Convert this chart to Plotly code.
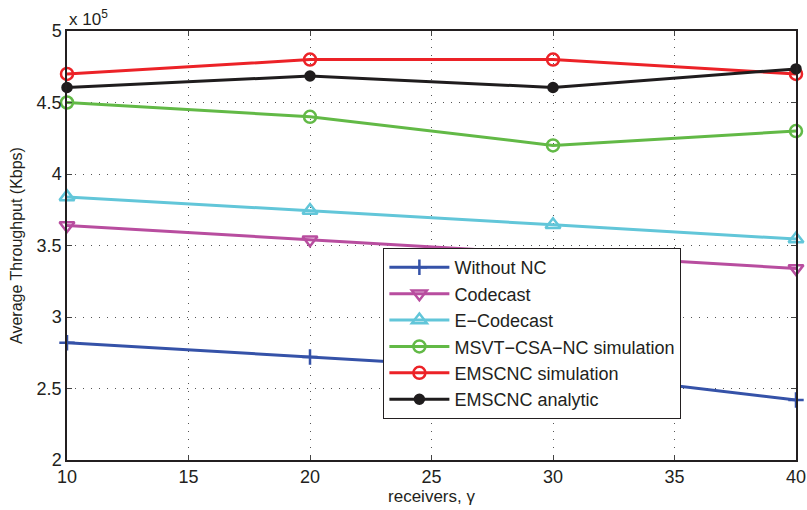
import plotly.graph_objects as go

receivers = [10, 20, 30, 40]

without_nc = [2.82e5, 2.72e5, 2.62e5, 2.42e5]
codecast = [3.64e5, 3.54e5, 3.44e5, 3.34e5]
e_codecast = [3.84e5, 3.745e5, 3.645e5, 3.545e5]
msvt_csa_nc = [4.50e5, 4.40e5, 4.20e5, 4.30e5]
emscnc_sim = [4.70e5, 4.80e5, 4.80e5, 4.70e5]
emscnc_ana = [4.605e5, 4.685e5, 4.605e5, 4.735e5]

y_ticks = [2e5, 2.5e5, 3e5, 3.5e5, 4e5, 4.5e5, 5e5]
y_tick_text = ["2", "2.5", "3", "3.5", "4", "4.5", "5"]
x_ticks = [10, 15, 20, 25, 30, 35, 40]

series = [
    ("Without NC", without_nc, "#3552a8", "cross-thin-open", 11),
    ("Codecast", codecast, "#b84d9f", "triangle-down-open", 13),
    ("E\u2212Codecast", e_codecast, "#62c6d9", "triangle-up-open", 13),
    ("MSVT\u2212CSA\u2212NC simulation", msvt_csa_nc, "#62b946", "circle-open", 12),
    ("EMSCNC simulation", emscnc_sim, "#ec2227", "circle-open", 12),
    ("EMSCNC analytic", emscnc_ana, "#1f1c1d", "circle", 9),
]

fig = go.Figure()
for name, vals, color, sym, size in series:
    fig.add_trace(go.Scatter(
        x=receivers, y=vals, name=name, mode="lines+markers",
        line=dict(color=color, width=3),
        marker=dict(symbol=sym, size=size, color=color,
                    line=dict(color=color, width=2.5)),
        cliponaxis=False,
    ))

font_main = "Liberation Sans, Arial, sans-serif"
font_narrow = "Liberation Sans Narrow, Arial Narrow, Liberation Sans, sans-serif"
grid_dash = "1px,7px"

fig.update_layout(
    width=807, height=510,
    margin=dict(l=67, r=11, t=31, b=50),
    plot_bgcolor="white", paper_bgcolor="white",
    font=dict(family=font_main, color="#231f20", size=15),
    showlegend=True,
    legend=dict(
        x=0.434, y=0.494, xanchor="left", yanchor="top",
        bgcolor="white", bordercolor="#231f20", borderwidth=1,
        font=dict(size=18, family=font_main), tracegroupgap=0,
        itemwidth=60,
    ),
    xaxis=dict(
        range=[10, 40], tickvals=x_ticks, ticks="inside", ticklen=5,
        showline=True, mirror="ticks", linecolor="#231f20", linewidth=1.5,
        showgrid=True, gridcolor="#555555", griddash=grid_dash, gridwidth=1,
        zeroline=False, automargin=False,
        tickfont=dict(family=font_narrow, size=18),
        title=dict(text="receivers, \u03b3", font=dict(family=font_narrow, size=17), standoff=2),
    ),
    yaxis=dict(
        range=[2e5, 5e5], tickvals=y_ticks, ticktext=y_tick_text,
        ticks="inside", ticklen=5,
        showline=True, mirror="ticks", linecolor="#231f20", linewidth=1.5,
        showgrid=True, gridcolor="#555555", griddash=grid_dash, gridwidth=1,
        zeroline=False, automargin=False,
        tickfont=dict(family=font_main, size=18),
        title=dict(text="Average Throughput (Kbps)", font=dict(family=font_main, size=16), standoff=10),
    ),
    annotations=[dict(
        x=0, y=1, xref="paper", yref="paper", xanchor="left", yanchor="bottom",
        text="x 10<sup>5</sup>", showarrow=False, xshift=0, yshift=0,
        font=dict(family=font_main, size=17, color="#231f20"),
    )],
)

fig.write_html("out.html")
